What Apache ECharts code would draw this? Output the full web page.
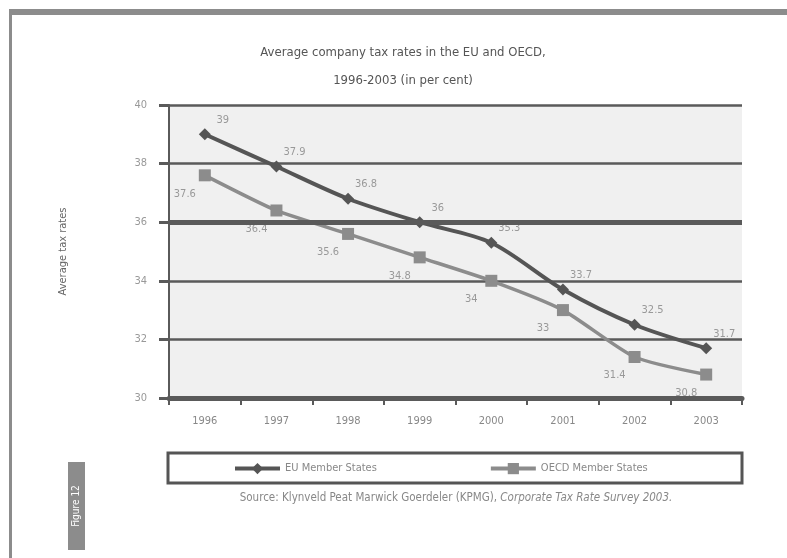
<!DOCTYPE html>
<html>
<head>
<meta charset="utf-8">
<script src="https://cdn.jsdelivr.net/npm/echarts@6/dist/echarts.min.js"></script>
<style>
html,body{margin:0;padding:0;background:#fff;}
#chart{width:787px;height:558px;}
</style>
</head>
<body>
<div id="chart"></div>
<script>
const years = ['1996','1997','1998','1999','2000','2001','2002','2003'];
const euValues = [39, 37.9, 36.8, 36, 35.3, 33.7, 32.5, 31.7];
const oecdValues = [37.6, 36.4, 35.6, 34.8, 34, 33, 31.4, 30.8];
const seriesNames = ['EU Member States', 'OECD Member States'];
const yTicks = [30, 32, 34, 36, 38, 40];

const FONT = "'DejaVu Sans Condensed', 'Liberation Sans Narrow', 'Liberation Sans', sans-serif";
const chart = echarts.init(document.getElementById('chart'));

chart.setOption({
  backgroundColor: '#fff',
  textStyle: { fontFamily: FONT },
  title: {
    text: 'Average company tax rates in the EU and OECD,\n1996-2003 (in per cent)',
    left: 398, textAlign: 'center', top: 34,
    textStyle: { fontFamily: FONT, fontSize: 13, fontWeight: 'normal', color: '#555', lineHeight: 28 }
  },
  grid: { left: 169, right: 45, top: 105, bottom: 160, show: true, backgroundColor: '#f0f0f0', borderWidth: 0 },
  legend: {
    data: seriesNames,
    top: 458, left: 228,
    itemGap: 112, itemWidth: 45, itemHeight: 14,
    lineStyle: { width: 4 },
    textStyle: { fontFamily: FONT, fontSize: 11, color: '#888' }
  },
  xAxis: {
    type: 'category', data: years, boundaryGap: true,
    axisLine: { lineStyle: { color: '#5a5a5a', width: 5 } },
    axisTick: { show: true, length: 7, lineStyle: { color: '#5a5a5a', width: 2 } },
    axisLabel: { margin: 18, color: '#888', fontSize: 11, fontFamily: FONT },
    splitLine: { show: false }
  },
  yAxis: {
    type: 'value', min: yTicks[0], max: yTicks[yTicks.length - 1], interval: 2,
    name: 'Average tax rates', nameLocation: 'middle', nameGap: 100,
    nameTextStyle: { color: '#666', fontSize: 11, fontFamily: FONT },
    axisLine: { show: true, lineStyle: { color: '#5a5a5a', width: 2 } },
    axisTick: { show: true, length: 10, lineStyle: { color: '#5a5a5a', width: 3 } },
    axisLabel: { margin: 22, color: '#999', fontSize: 11, fontFamily: FONT },
    splitLine: { show: true, lineStyle: { color: '#5a5a5a', width: 2.5 } }
  },
  series: [
    {
      name: seriesNames[0], type: 'line', data: euValues, smooth: 0.3,
      symbol: 'diamond', symbolSize: 12,
      lineStyle: { color: '#555', width: 4 },
      itemStyle: { color: '#555' },
      label: { show: true, position: 'top', offset: [18, 2], color: '#999', fontSize: 11, fontFamily: FONT },
      markLine: {
        silent: true, symbol: 'none', label: { show: false },
        lineStyle: { color: '#5a5a5a', width: 5, type: 'solid' },
        data: [{ yAxis: 36 }]
      },
      z: 3
    },
    {
      name: seriesNames[1], type: 'line', data: oecdValues, smooth: 0.2,
      symbol: 'rect', symbolSize: 12,
      lineStyle: { color: '#8c8c8c', width: 3.5 },
      itemStyle: { color: '#8c8c8c' },
      label: { show: true, position: 'bottom', offset: [-20, 2], color: '#999', fontSize: 11, fontFamily: FONT },
      z: 2
    }
  ],
  graphic: [
    { type: 'rect', shape: { x: 9, y: 9, width: 778, height: 6 }, style: { fill: '#8c8c8c' } },
    { type: 'rect', shape: { x: 9, y: 9, width: 3, height: 549 }, style: { fill: '#8c8c8c' } },
    { type: 'rect', shape: { x: 168, y: 453, width: 574, height: 30 }, style: { fill: 'none', stroke: '#555', lineWidth: 3 }, z: -1 },
    { type: 'rect', shape: { x: 68, y: 462, width: 17, height: 88 }, style: { fill: '#8c8c8c' } },
    { type: 'text', x: 76, y: 506, rotation: Math.PI / 2,
      style: { text: 'Figure 12', fill: '#fff', font: '10px ' + FONT, align: 'center', verticalAlign: 'middle' } },
    { type: 'text', x: 456, y: 498,
      style: { text: '{a|Source: Klynveld Peat Marwick Goerdeler (KPMG), }{b|Corporate Tax Rate Survey 2003.}',
        align: 'center', verticalAlign: 'middle',
        rich: { a: { fill: '#888', fontSize: 11.5, fontFamily: FONT }, b: { fill: '#888', fontSize: 11.5, fontFamily: FONT, fontStyle: 'italic' } } } }
  ]
});
</script>
</body>
</html>
